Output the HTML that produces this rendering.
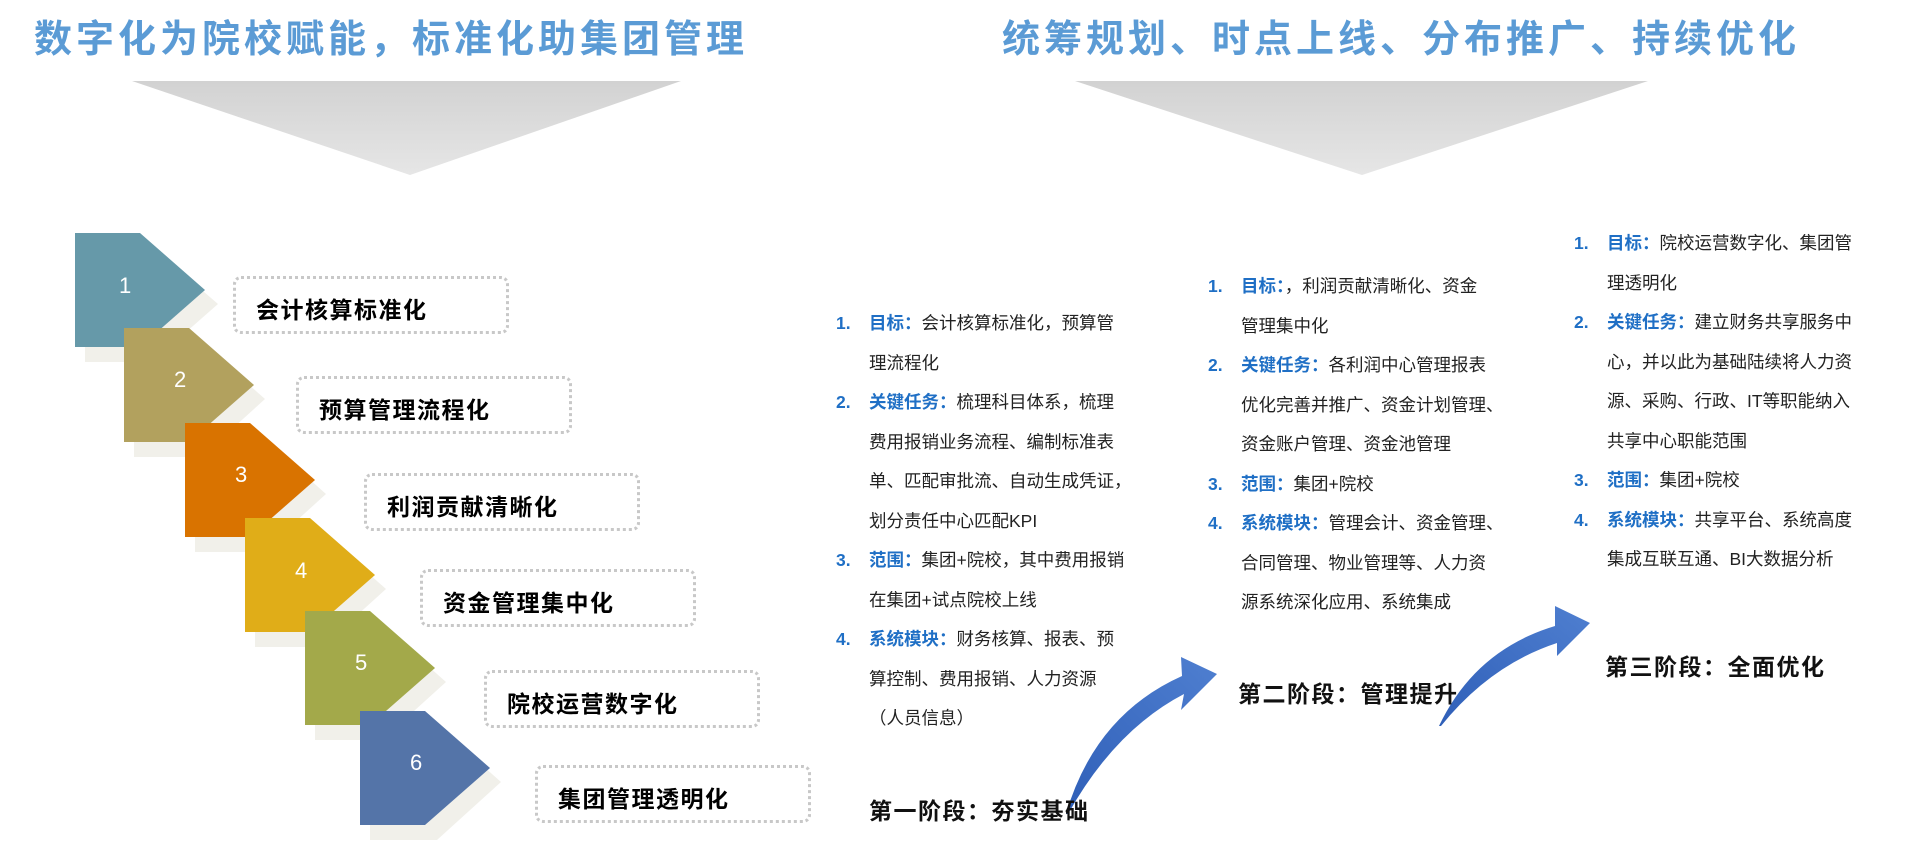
<!DOCTYPE html>
<html><head><meta charset="utf-8"><style>
body{margin:0;width:1920px;height:842px;background:#fff;position:relative;overflow:hidden;font-family:"Liberation Sans","Noto Sans CJK SC",sans-serif;}
.t{position:absolute;top:8px;font-size:38px;font-weight:bold;color:#5b9bd5;letter-spacing:4px;white-space:nowrap;}
.box{position:absolute;width:270px;height:52px;border:3px dotted #c8c8c8;border-radius:8px;}
.box span{position:absolute;left:20px;top:12px;font-size:23px;font-weight:bold;color:#000;white-space:nowrap;letter-spacing:1.5px;}
.num{position:absolute;color:#fff;font-size:22px;}
.col{position:absolute;font-size:17.5px;color:#222;line-height:39.5px;white-space:nowrap;}
.col div{position:relative;padding-left:33px;}
.col b{color:#1f6fc5;}
.col .n{position:absolute;left:0;color:#1f6fc5;font-weight:bold;}
.st{position:absolute;font-size:23px;font-weight:bold;color:#111;white-space:nowrap;letter-spacing:1.5px;}
</style></head><body>
<div class="t" style="left:34px">数字化为院校赋能，标准化助集团管理</div>
<div class="t" style="left:1002px">统筹规划、时点上线、分布推广、持续优化</div>
<svg width="1920" height="842" style="position:absolute;left:0;top:0">
<defs><linearGradient id="g" x1="0" y1="0" x2="0" y2="1"><stop offset="0" stop-color="#d2d2d2"/><stop offset="1" stop-color="#e6e6e6"/></linearGradient>
<linearGradient id="b" x1="0" y1="1" x2="1" y2="0"><stop offset="0" stop-color="#2f5fb8"/><stop offset="1" stop-color="#4f7fd0"/></linearGradient></defs>
<polygon points="132,81 681,81 410,175" fill="url(#g)"/>
<polygon points="1075,81 1648,81 1362,175" fill="url(#g)"/>
<polygon points="85,247 152,247 218,304 152,362 85,362" fill="#f1f0ea"/>
<polygon points="75,233 140,233 205,290 140,347 75,347" fill="#6699a9"/>
<polygon points="134,342 201,342 265,399 201,457 134,457" fill="#f1f0ea"/>
<polygon points="124,328 189,328 254,385 189,442 124,442" fill="#b2a15e"/>
<polygon points="195,437 262,437 326,494 262,552 195,552" fill="#f1f0ea"/>
<polygon points="185,423 250,423 315,480 250,537 185,537" fill="#d97300"/>
<polygon points="255,532 322,532 386,589 322,647 255,647" fill="#f1f0ea"/>
<polygon points="245,518 310,518 375,575 310,632 245,632" fill="#e0ad18"/>
<polygon points="315,625 382,625 446,682 382,740 315,740" fill="#f1f0ea"/>
<polygon points="305,611 370,611 435,668 370,725 305,725" fill="#a3a94a"/>
<polygon points="370,725 437,725 501,782 437,840 370,840" fill="#f1f0ea"/>
<polygon points="360,711 425,711 490,768 425,825 360,825" fill="#5474a8"/>
<path d="M1066,814 Q1095,715 1182,676 L1181,657 L1217,674 L1181,710 L1184,694 Q1115,730 1068,814 Z" fill="url(#b)"/>
<path d="M1439,726 Q1475,650 1555,626 L1555,606 L1590,623 L1557,656 L1557,643 Q1490,665 1441,726 Z" fill="url(#b)"/>
</svg>
<div class="num" style="left:119px;top:273px">1</div>
<div class="num" style="left:174px;top:367px">2</div>
<div class="num" style="left:235px;top:462px">3</div>
<div class="num" style="left:295px;top:558px">4</div>
<div class="num" style="left:355px;top:650px">5</div>
<div class="num" style="left:410px;top:750px">6</div>
<div class="box" style="left:233px;top:276px"><span>会计核算标准化</span></div>
<div class="box" style="left:296px;top:376px"><span>预算管理流程化</span></div>
<div class="box" style="left:364px;top:473px"><span>利润贡献清晰化</span></div>
<div class="box" style="left:420px;top:569px"><span>资金管理集中化</span></div>
<div class="box" style="left:484px;top:670px"><span>院校运营数字化</span></div>
<div class="box" style="left:535px;top:765px"><span>集团管理透明化</span></div>
<div class="col" style="left:836px;top:304px">
<div><span class="n">1.</span><b>目标：</b>会计核算标准化，预算管<br>理流程化</div>
<div><span class="n">2.</span><b>关键任务：</b>梳理科目体系，梳理<br>费用报销业务流程、编制标准表<br>单、匹配审批流、自动生成凭证，<br>划分责任中心匹配KPI</div>
<div><span class="n">3.</span><b>范围：</b>集团+院校，其中费用报销<br>在集团+试点院校上线</div>
<div><span class="n">4.</span><b>系统模块：</b>财务核算、报表、预<br>算控制、费用报销、人力资源<br>（人员信息）</div>
</div>
<div class="col" style="left:1208px;top:267px">
<div><span class="n">1.</span><b>目标：</b>，利润贡献清晰化、资金<br>管理集中化</div>
<div><span class="n">2.</span><b>关键任务：</b>各利润中心管理报表<br>优化完善并推广、资金计划管理、<br>资金账户管理、资金池管理</div>
<div><span class="n">3.</span><b>范围：</b>集团+院校</div>
<div><span class="n">4.</span><b>系统模块：</b>管理会计、资金管理、<br>合同管理、物业管理等、人力资<br>源系统深化应用、系统集成</div>
</div>
<div class="col" style="left:1574px;top:224px">
<div><span class="n">1.</span><b>目标：</b>院校运营数字化、集团管<br>理透明化</div>
<div><span class="n">2.</span><b>关键任务：</b>建立财务共享服务中<br>心，并以此为基础陆续将人力资<br>源、采购、行政、IT等职能纳入<br>共享中心职能范围</div>
<div><span class="n">3.</span><b>范围：</b>集团+院校</div>
<div><span class="n">4.</span><b>系统模块：</b>共享平台、系统高度<br>集成互联互通、BI大数据分析</div>
</div>
<div class="st" style="left:869px;top:792px">第一阶段：夯实基础</div>
<div class="st" style="left:1238px;top:675px">第二阶段：管理提升</div>
<div class="st" style="left:1605px;top:648px">第三阶段：全面优化</div>
</body></html>
